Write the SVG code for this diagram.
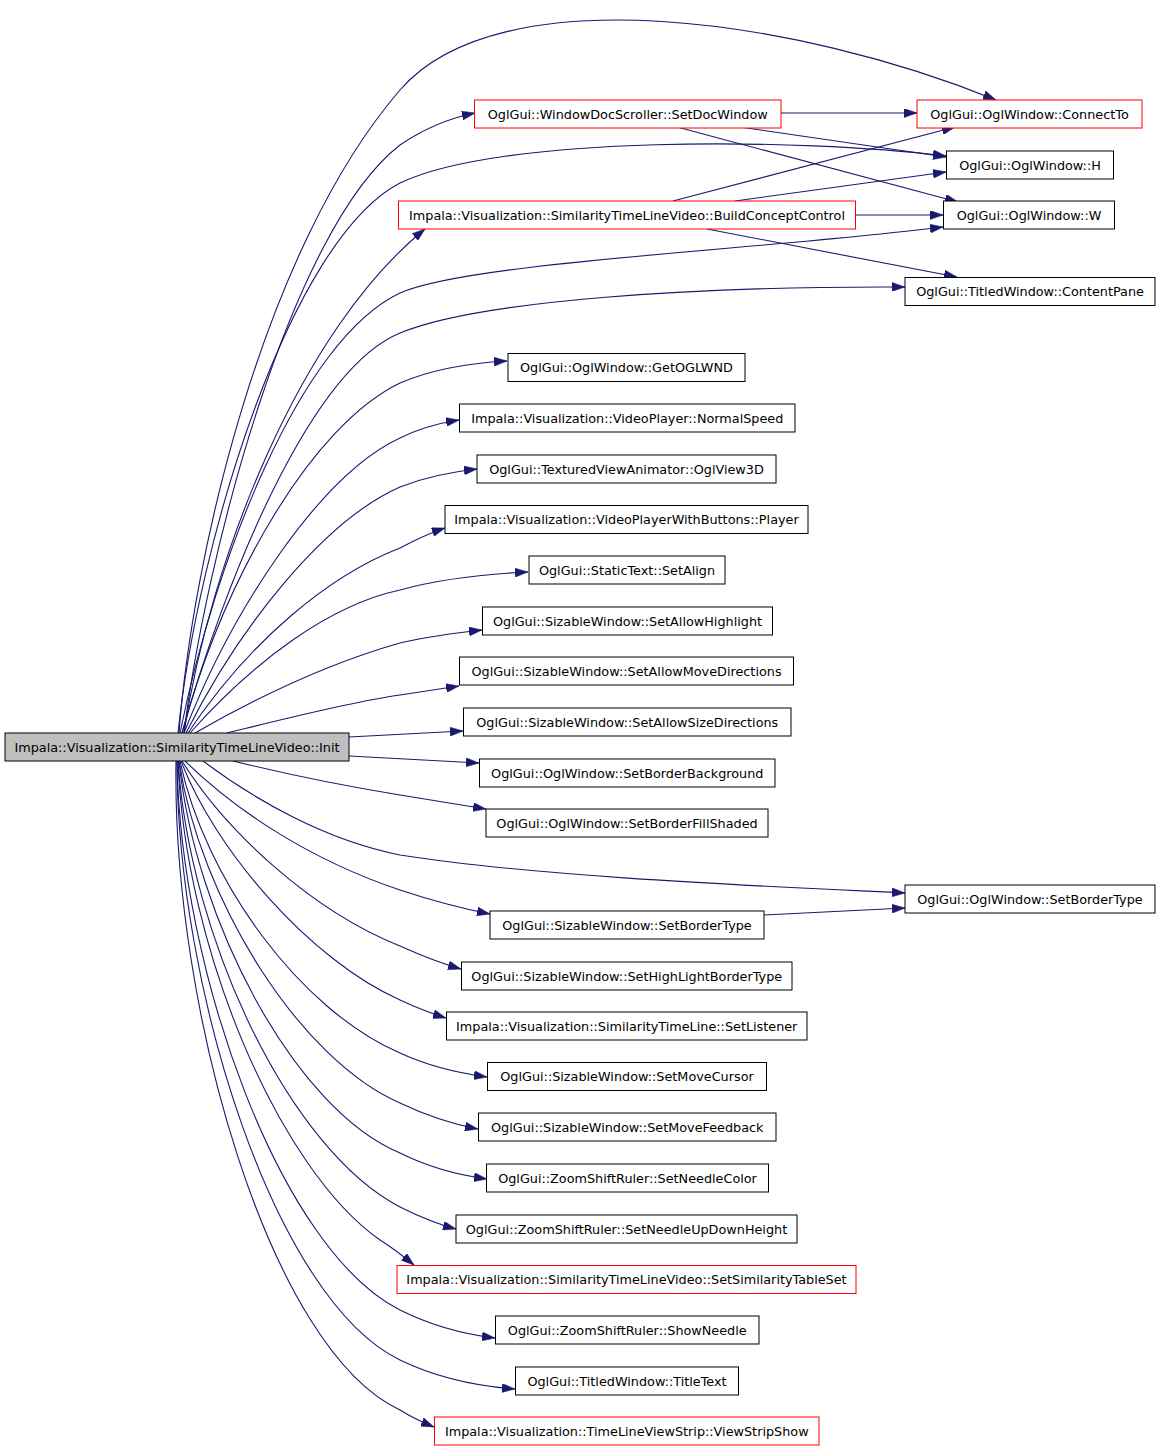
<svg xmlns="http://www.w3.org/2000/svg" width="1160" height="1449" viewBox="0 0 1160 1449">
<defs>
<style>
.n rect{fill:#ffffff;stroke:#000000;stroke-width:1}
.n.red rect{stroke:#ff0000}
.n.root rect{fill:#bfbfbf}
.n text{font-family:"DejaVu Sans","Liberation Sans",sans-serif;font-size:12.8px;fill:#000000;text-anchor:middle}
.e path{fill:none;stroke:#191970;stroke-width:1.1;marker-end:url(#ah)}
</style>
<marker id="ah" markerUnits="userSpaceOnUse" markerWidth="13" markerHeight="9" refX="13" refY="4.5" orient="auto" viewBox="0 0 13 9">
<path d="M0,0 L13,4.5 L0,9 z" fill="#191970" stroke="#191970" stroke-width="0.5"/>
</marker>
</defs>
<rect x="0" y="0" width="1160" height="1449" fill="#ffffff"/>
<g id="edges" class="e">
<path d="M179,733 C192,560 262,250 400,90 C500,-26 800,20 996,100"/>
<path d="M184,733 C205,560 290,230 400,145 C425,128 450,118 475,113"/>
<path d="M178,733 C198,540 290,240 400,183 C500,135 800,138 946,156"/>
<path d="M184,733 C210,560 300,330 425,229"/>
<path d="M180,733 C215,560 300,340 400,293 C470,262 760,250 943,227"/>
<path d="M182,733 C225,580 310,370 400,333 C480,300 700,286 905,287"/>
<path d="M182,733 C225,575 313,425 400,383 C435,368 470,363 507,361"/>
<path d="M184,733 C232,610 320,475 400,438 C420,428 440,423 459,420"/>
<path d="M186,733 C240,625 325,520 400,487 C425,477 450,472 477,469"/>
<path d="M188,733 C250,640 330,575 400,548 C415,540 430,533 445,528"/>
<path d="M190,733 C255,660 330,605 400,590 C440,579 485,574 528,572"/>
<path d="M195,733 C270,690 340,660 400,643 C425,637 455,633 482,630"/>
<path d="M227,733 C280,720 350,702 400,695 C420,692 440,689 459,686"/>
<path d="M349,737 L463,731"/>
<path d="M349,756 L479,763"/>
<path d="M233,761 C290,775 350,787 400,795 C430,800 460,805 486,809"/>
<path d="M203,761 C255,800 325,840 400,855 C540,877 760,886 905,893"/>
<path d="M185,761 C235,810 310,860 400,890 C430,900 460,908 490,914"/>
<path d="M182,761 C225,830 310,910 400,946 C420,955 440,963 461,969"/>
<path d="M181,761 C215,850 310,960 400,1000 C415,1007 430,1013 446,1018"/>
<path d="M180,761 C205,880 300,1010 400,1053 C428,1066 458,1073 487,1077"/>
<path d="M179,761 C200,900 300,1060 400,1103 C425,1115 452,1124 478,1129"/>
<path d="M179,761 C195,920 295,1110 400,1153 C428,1167 458,1175 487,1179"/>
<path d="M178,761 C190,940 290,1150 400,1207 C418,1216 437,1224 456,1229"/>
<path d="M178,761 C185,950 280,1170 380,1240 C393,1248 403,1256 414,1265"/>
<path d="M177,761 C180,970 280,1250 400,1310 C430,1325 462,1334 495,1338"/>
<path d="M177,761 C177,990 275,1300 400,1360 C435,1377 475,1386 515,1389"/>
<path d="M176,761 C172,1010 270,1350 400,1410 C411,1417 422,1422 434,1427"/>
<path d="M781,113 L917,113"/>
<path d="M740,127 L946,157"/>
<path d="M677,127 L958,202"/>
<path d="M673,201 L955,127"/>
<path d="M735,201 L946,172"/>
<path d="M856,215 L943,215"/>
<path d="M707,229 L957,277"/>
<path d="M764,915 L905,908"/>
</g>
<g id="n_init" class="n root"><rect x="5" y="733" width="344" height="28"/><text x="177" y="751.5">Impala::Visualization::SimilarityTimeLineVideo::Init</text></g>
<g id="n_connectto" class="n red"><rect x="917" y="100" width="225" height="28"/><text x="1029.5" y="118.5">OglGui::OglWindow::ConnectTo</text></g>
<g id="n_setdocwindow" class="n red"><rect x="474.5" y="100" width="306.5" height="28"/><text x="627.75" y="118.5">OglGui::WindowDocScroller::SetDocWindow</text></g>
<g id="n_h" class="n"><rect x="946.5" y="151" width="167" height="28"/><text x="1030" y="169.5">OglGui::OglWindow::H</text></g>
<g id="n_w" class="n"><rect x="943.5" y="201" width="171" height="28"/><text x="1029" y="219.5">OglGui::OglWindow::W</text></g>
<g id="n_bcc" class="n red"><rect x="398.5" y="201" width="457" height="28"/><text x="627" y="219.5">Impala::Visualization::SimilarityTimeLineVideo::BuildConceptControl</text></g>
<g id="n_contentpane" class="n"><rect x="905" y="277.5" width="250" height="28"/><text x="1030" y="296">OglGui::TitledWindow::ContentPane</text></g>
<g id="n_getoglwnd" class="n"><rect x="508" y="353.5" width="237" height="28"/><text x="626.5" y="372">OglGui::OglWindow::GetOGLWND</text></g>
<g id="n_normalspeed" class="n"><rect x="459.5" y="404" width="335.5" height="28"/><text x="627.25" y="422.5">Impala::Visualization::VideoPlayer::NormalSpeed</text></g>
<g id="n_oglview3d" class="n"><rect x="477" y="455" width="299" height="28"/><text x="626.5" y="473.5">OglGui::TexturedViewAnimator::OglView3D</text></g>
<g id="n_player" class="n"><rect x="445" y="505.5" width="363" height="28"/><text x="626.5" y="524">Impala::Visualization::VideoPlayerWithButtons::Player</text></g>
<g id="n_setalign" class="n"><rect x="529" y="556" width="196" height="28"/><text x="627" y="574.5">OglGui::StaticText::SetAlign</text></g>
<g id="n_setallowhighlight" class="n"><rect x="482.5" y="607" width="290" height="28"/><text x="627.5" y="625.5">OglGui::SizableWindow::SetAllowHighlight</text></g>
<g id="n_setallowmovedirections" class="n"><rect x="459.5" y="657" width="334" height="28"/><text x="626.5" y="675.5">OglGui::SizableWindow::SetAllowMoveDirections</text></g>
<g id="n_setallowsizedirections" class="n"><rect x="463.5" y="708" width="327.5" height="28"/><text x="627.25" y="726.5">OglGui::SizableWindow::SetAllowSizeDirections</text></g>
<g id="n_setborderbackground" class="n"><rect x="479.5" y="759" width="295.5" height="28"/><text x="627.25" y="777.5">OglGui::OglWindow::SetBorderBackground</text></g>
<g id="n_setborderfillshaded" class="n"><rect x="486" y="809" width="282" height="28"/><text x="627" y="827.5">OglGui::OglWindow::SetBorderFillShaded</text></g>
<g id="n_ogl_setbordertype" class="n"><rect x="905" y="885" width="250" height="28"/><text x="1030" y="903.5">OglGui::OglWindow::SetBorderType</text></g>
<g id="n_siz_setbordertype" class="n"><rect x="490" y="911" width="274" height="28"/><text x="627" y="929.5">OglGui::SizableWindow::SetBorderType</text></g>
<g id="n_sethighlightbordertype" class="n"><rect x="461.5" y="962" width="330.5" height="28"/><text x="626.75" y="980.5">OglGui::SizableWindow::SetHighLightBorderType</text></g>
<g id="n_setlistener" class="n"><rect x="446.5" y="1012" width="360.5" height="28"/><text x="626.75" y="1030.5">Impala::Visualization::SimilarityTimeLine::SetListener</text></g>
<g id="n_setmovecursor" class="n"><rect x="487.5" y="1062.5" width="279" height="28"/><text x="627" y="1081">OglGui::SizableWindow::SetMoveCursor</text></g>
<g id="n_setmovefeedback" class="n"><rect x="478.5" y="1113" width="297.5" height="28"/><text x="627.25" y="1131.5">OglGui::SizableWindow::SetMoveFeedback</text></g>
<g id="n_setneedlecolor" class="n"><rect x="486.5" y="1164" width="282" height="28"/><text x="627.5" y="1182.5">OglGui::ZoomShiftRuler::SetNeedleColor</text></g>
<g id="n_setneedleupdownheight" class="n"><rect x="456" y="1215" width="341" height="28"/><text x="626.5" y="1233.5">OglGui::ZoomShiftRuler::SetNeedleUpDownHeight</text></g>
<g id="n_setsimilaritytableset" class="n red"><rect x="397" y="1265.5" width="459" height="28"/><text x="626.5" y="1284">Impala::Visualization::SimilarityTimeLineVideo::SetSimilarityTableSet</text></g>
<g id="n_showneedle" class="n"><rect x="495.5" y="1316" width="263.5" height="28"/><text x="627.25" y="1334.5">OglGui::ZoomShiftRuler::ShowNeedle</text></g>
<g id="n_titletext" class="n"><rect x="515.5" y="1367" width="223" height="28"/><text x="627" y="1385.5">OglGui::TitledWindow::TitleText</text></g>
<g id="n_viewstripshow" class="n red"><rect x="434.5" y="1417" width="384.5" height="28"/><text x="626.75" y="1435.5">Impala::Visualization::TimeLineViewStrip::ViewStripShow</text></g>
</svg>
